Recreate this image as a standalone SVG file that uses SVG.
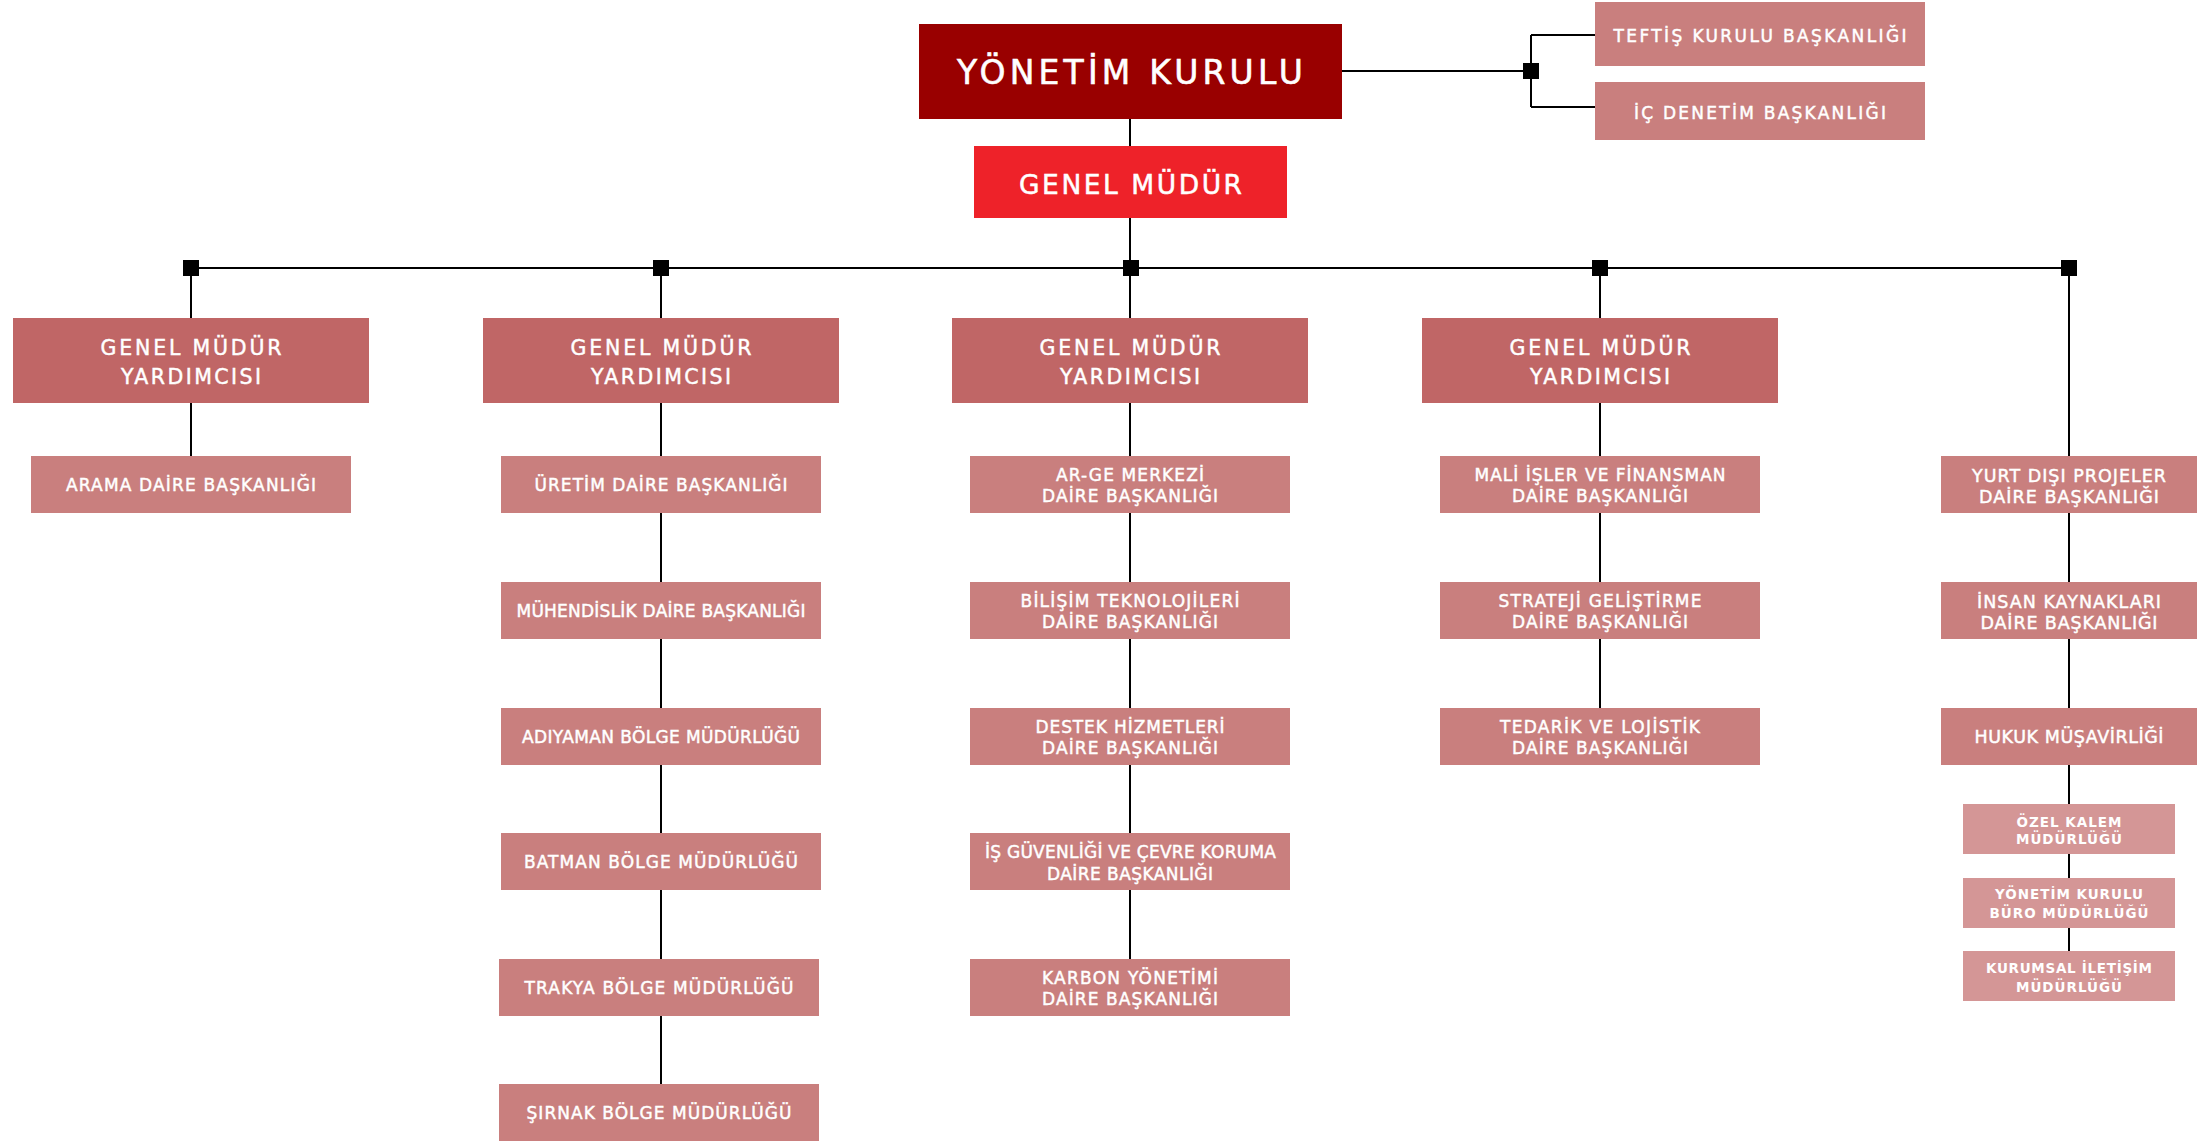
<svg xmlns="http://www.w3.org/2000/svg" width="2207" height="1142" viewBox="0 0 2207 1142">
<style>
text{font-family:"DejaVu Sans","Liberation Sans",sans-serif;fill:#fff;text-anchor:middle;font-weight:normal}
.yk{fill:#990000}.gm{fill:#ee2229}.gmy{fill:#c06666}.d{fill:#c97f7e}.s{fill:#d49696}
.t1{font-size:33px;stroke:#fff;stroke-width:0.6}.t2{font-size:26.5px;stroke:#fff;stroke-width:0.5}.t3{font-size:20.5px;stroke:#fff;stroke-width:0.45}
.t4{font-size:17px;stroke:#fff;stroke-width:0.45}.t5{font-size:17.5px;stroke:#fff;stroke-width:0.45}.t6{font-size:13.5px;font-weight:bold}
.ln{stroke:#000;stroke-width:2;fill:none}
</style>
<g id="connectors">
<path class="ln" d="M1130 119V146M1130 218V268M191 268H2069M1342 71H1531M1531 35V107M1531 35H1595M1531 107H1595"/>
<path class="ln" d="M191 268V318M191 403V456M661 268V318M661 403V1084M1130 268V318M1130 403V959M1600 268V318M1600 403V708M2069 268V951"/>
<rect x="1523" y="63" width="16" height="16" fill="#000"/>
<rect x="183" y="260" width="16" height="16" fill="#000"/>
<rect x="653" y="260" width="16" height="16" fill="#000"/>
<rect x="1123" y="260" width="16" height="16" fill="#000"/>
<rect x="1592" y="260" width="16" height="16" fill="#000"/>
<rect x="2061" y="260" width="16" height="16" fill="#000"/>
</g>
<g id="yonetim-kurulu"><rect class="yk" x="919" y="24" width="423" height="95"/><text class="t1" x="1130" y="84" textLength="346">YÖNETİM KURULU</text></g>
<g id="genel-mudur"><rect class="gm" x="974" y="146" width="313" height="72"/><text class="t2" x="1130.5" y="194" textLength="223">GENEL MÜDÜR</text></g>
<g id="teftis"><rect class="d" x="1595" y="2" width="330" height="64"/><text class="t4" x="1760" y="41.5" textLength="293">TEFTİŞ KURULU BAŞKANLIĞI</text></g>
<g id="ic-denetim"><rect class="d" x="1595" y="82" width="330" height="58"/><text class="t4" x="1760" y="119" textLength="252">İÇ DENETİM BAŞKANLIĞI</text></g>

<g id="gmy1"><rect class="gmy" x="13" y="318" width="356" height="85"/><text class="t3" x="191" y="355" textLength="181">GENEL MÜDÜR</text><text class="t3" x="191" y="384" textLength="140">YARDIMCISI</text></g>
<g id="gmy2"><rect class="gmy" x="483" y="318" width="356" height="85"/><text class="t3" x="661" y="355" textLength="181">GENEL MÜDÜR</text><text class="t3" x="661" y="384" textLength="140">YARDIMCISI</text></g>
<g id="gmy3"><rect class="gmy" x="952" y="318" width="356" height="85"/><text class="t3" x="1130" y="355" textLength="181">GENEL MÜDÜR</text><text class="t3" x="1130" y="384" textLength="140">YARDIMCISI</text></g>
<g id="gmy4"><rect class="gmy" x="1422" y="318" width="356" height="85"/><text class="t3" x="1600" y="355" textLength="181">GENEL MÜDÜR</text><text class="t3" x="1600" y="384" textLength="140">YARDIMCISI</text></g>

<g id="arama"><rect class="d" x="31" y="456" width="320" height="57"/><text class="t4" x="191" y="491" textLength="250">ARAMA DAİRE BAŞKANLIĞI</text></g>

<g id="uretim"><rect class="d" x="501" y="456" width="320" height="57"/><text class="t4" x="661" y="491" textLength="253">ÜRETİM DAİRE BAŞKANLIĞI</text></g>
<g id="muhendislik"><rect class="d" x="501" y="582" width="320" height="57"/><text class="t4" x="661" y="617" textLength="289">MÜHENDİSLİK DAİRE BAŞKANLIĞI</text></g>
<g id="adiyaman"><rect class="d" x="501" y="708" width="320" height="57"/><text class="t4" x="661" y="743" textLength="278">ADIYAMAN BÖLGE MÜDÜRLÜĞÜ</text></g>
<g id="batman"><rect class="d" x="501" y="833" width="320" height="57"/><text class="t4" x="661" y="868" textLength="274">BATMAN BÖLGE MÜDÜRLÜĞÜ</text></g>
<g id="trakya"><rect class="d" x="499" y="959" width="320" height="57"/><text class="t4" x="659" y="994" textLength="269">TRAKYA BÖLGE MÜDÜRLÜĞÜ</text></g>
<g id="sirnak"><rect class="d" x="499" y="1084" width="320" height="57"/><text class="t4" x="659" y="1119" textLength="265">ŞIRNAK BÖLGE MÜDÜRLÜĞÜ</text></g>

<g id="arge"><rect class="d" x="970" y="456" width="320" height="57"/><text class="t4" x="1130" y="481" textLength="148">AR-GE MERKEZİ</text><text class="t4" x="1130" y="502" textLength="176">DAİRE BAŞKANLIĞI</text></g>
<g id="bilisim"><rect class="d" x="970" y="582" width="320" height="57"/><text class="t4" x="1130" y="607" textLength="219">BİLİŞİM TEKNOLOJİLERİ</text><text class="t4" x="1130" y="628" textLength="176">DAİRE BAŞKANLIĞI</text></g>
<g id="destek"><rect class="d" x="970" y="708" width="320" height="57"/><text class="t4" x="1130" y="733" textLength="189">DESTEK HİZMETLERİ</text><text class="t4" x="1130" y="754" textLength="176">DAİRE BAŞKANLIĞI</text></g>
<g id="is-guvenligi"><rect class="d" x="970" y="833" width="320" height="57"/><text class="t4" x="1130.5" y="858" textLength="291">İŞ GÜVENLİĞİ VE ÇEVRE KORUMA</text><text class="t4" x="1130" y="879.5" textLength="166">DAİRE BAŞKANLIĞI</text></g>
<g id="karbon"><rect class="d" x="970" y="959" width="320" height="57"/><text class="t4" x="1130" y="984" textLength="176">KARBON YÖNETİMİ</text><text class="t4" x="1130" y="1005" textLength="176">DAİRE BAŞKANLIĞI</text></g>

<g id="mali"><rect class="d" x="1440" y="456" width="320" height="57"/><text class="t4" x="1600" y="481" textLength="251">MALİ İŞLER VE FİNANSMAN</text><text class="t4" x="1600" y="502" textLength="176">DAİRE BAŞKANLIĞI</text></g>
<g id="strateji"><rect class="d" x="1440" y="582" width="320" height="57"/><text class="t4" x="1600" y="607" textLength="203">STRATEJİ GELİŞTİRME</text><text class="t4" x="1600" y="628" textLength="176">DAİRE BAŞKANLIĞI</text></g>
<g id="tedarik"><rect class="d" x="1440" y="708" width="320" height="57"/><text class="t4" x="1600" y="733" textLength="200">TEDARİK VE LOJİSTİK</text><text class="t4" x="1600" y="754" textLength="176">DAİRE BAŞKANLIĞI</text></g>

<g id="yurt-disi"><rect class="d" x="1941" y="456" width="256" height="57"/><text class="t5" x="2069" y="481.5" textLength="194">YURT DIŞI PROJELER</text><text class="t5" x="2069" y="502.5" textLength="180">DAİRE BAŞKANLIĞI</text></g>
<g id="insan-kaynaklari"><rect class="d" x="1941" y="582" width="256" height="57"/><text class="t5" x="2069" y="607.5" textLength="184">İNSAN KAYNAKLARI</text><text class="t5" x="2069" y="628.5" textLength="177">DAİRE BAŞKANLIĞI</text></g>
<g id="hukuk"><rect class="d" x="1941" y="708" width="256" height="57"/><text class="t5" x="2069" y="743" textLength="189">HUKUK MÜŞAVİRLİĞİ</text></g>
<g id="ozel-kalem"><rect class="s" x="1963" y="804" width="212" height="50"/><text class="t6" x="2069" y="826.5" textLength="105">ÖZEL KALEM</text><text class="t6" x="2069" y="843.5" textLength="106">MÜDÜRLÜĞÜ</text></g>
<g id="yk-buro"><rect class="s" x="1963" y="878" width="212" height="50"/><text class="t6" x="2069" y="899" textLength="148">YÖNETİM KURULU</text><text class="t6" x="2069" y="917.5" textLength="159">BÜRO MÜDÜRLÜĞÜ</text></g>
<g id="kurumsal-iletisim"><rect class="s" x="1963" y="951" width="212" height="50"/><text class="t6" x="2069" y="973" textLength="166">KURUMSAL İLETİŞİM</text><text class="t6" x="2069" y="991.5" textLength="106">MÜDÜRLÜĞÜ</text></g>
</svg>
